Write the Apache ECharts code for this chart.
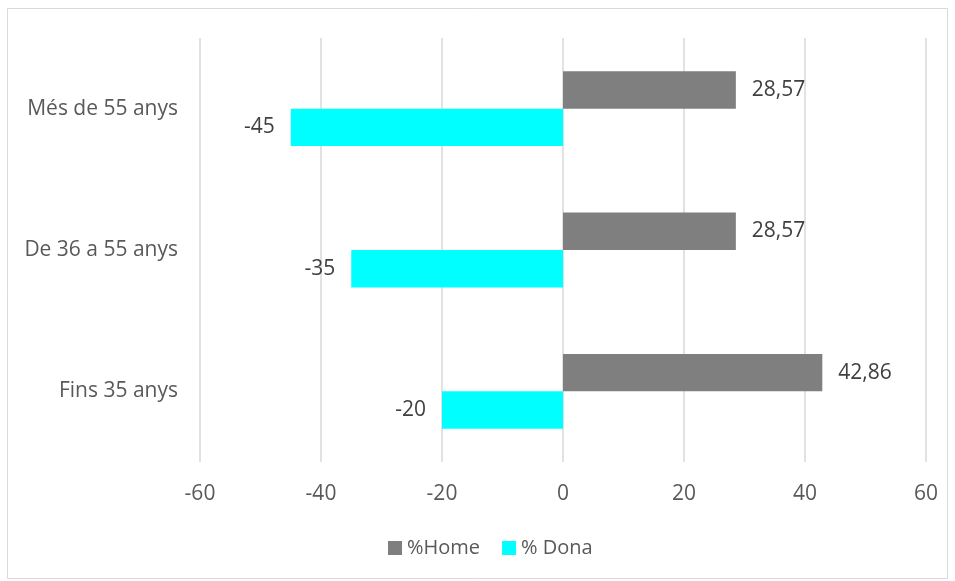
<!DOCTYPE html>
<html><head><meta charset="utf-8">
<script src="https://cdn.jsdelivr.net/npm/echarts@6/dist/echarts.min.js"></script>
<style>html,body{margin:0;padding:0;background:#fff}#c{width:955px;height:581px}</style>
</head><body><div id="c"></div>
<script>
const categories = ['Fins 35 anys', 'De 36 a 55 anys', 'Més de 55 anys'];
const homeValues = [42.86, 28.57, 28.57];
const donaValues = [-20, -35, -45];
const xTicks = [-60, -40, -20, 0, 20, 40, 60];

const chart = echarts.init(document.getElementById('c'));
const fmt = v => String(v).replace('.', ',');
const font = "'Open Sans', 'Noto Sans', sans-serif";
const fs = 21;
chart.setOption({
  animation: false,
  backgroundColor: '#fff',
  graphic: [{type:'rect', shape:{x:7.5,y:8.5,width:940,height:570}, style:{fill:'none', stroke:'#d9d9d9', lineWidth:1}, silent:true}],
  grid: {left: 200, right: 29, top: 38, bottom: 119, containLabel: false},
  legend: {
    data: ['%Home', '% Dona'], top: 533, left: 383,
    icon: 'rect', itemWidth: 14, itemHeight: 14, itemGap: 22,
    textStyle: {color: '#595959', fontSize: 20, fontFamily: font}
  },
  xAxis: {
    type: 'value', min: xTicks[0], max: xTicks[xTicks.length-1], interval: 20,
    axisLine: {show: false}, axisTick: {show: false},
    splitLine: {lineStyle: {color: '#d9d9d9', width: 1.5}},
    axisLabel: {color: '#595959', fontSize: fs, fontFamily: font, margin: 22}
  },
  yAxis: {
    type: 'category', data: categories,
    axisLine: {show: false}, axisTick: {show: false},
    axisLabel: {color: '#595959', fontSize: fs, fontFamily: font, margin: 22}
  },
  series: [
    {
      name: '%Home', type: 'bar', data: homeValues, barGap: '0%', barCategoryGap: '47%',
      itemStyle: {color: '#7f7f7f'},
      label: {show: true, position: 'right', distance: 16, color: '#404040', fontSize: fs, fontFamily: font, formatter: p => fmt(p.value)}
    },
    {
      name: '% Dona', type: 'bar', data: donaValues, barGap: '0%', barCategoryGap: '47%',
      itemStyle: {color: '#00ffff'},
      label: {show: true, position: 'left', distance: 16, color: '#404040', fontSize: fs, fontFamily: font, formatter: p => fmt(p.value)}
    }
  ]
});
</script></body></html>
